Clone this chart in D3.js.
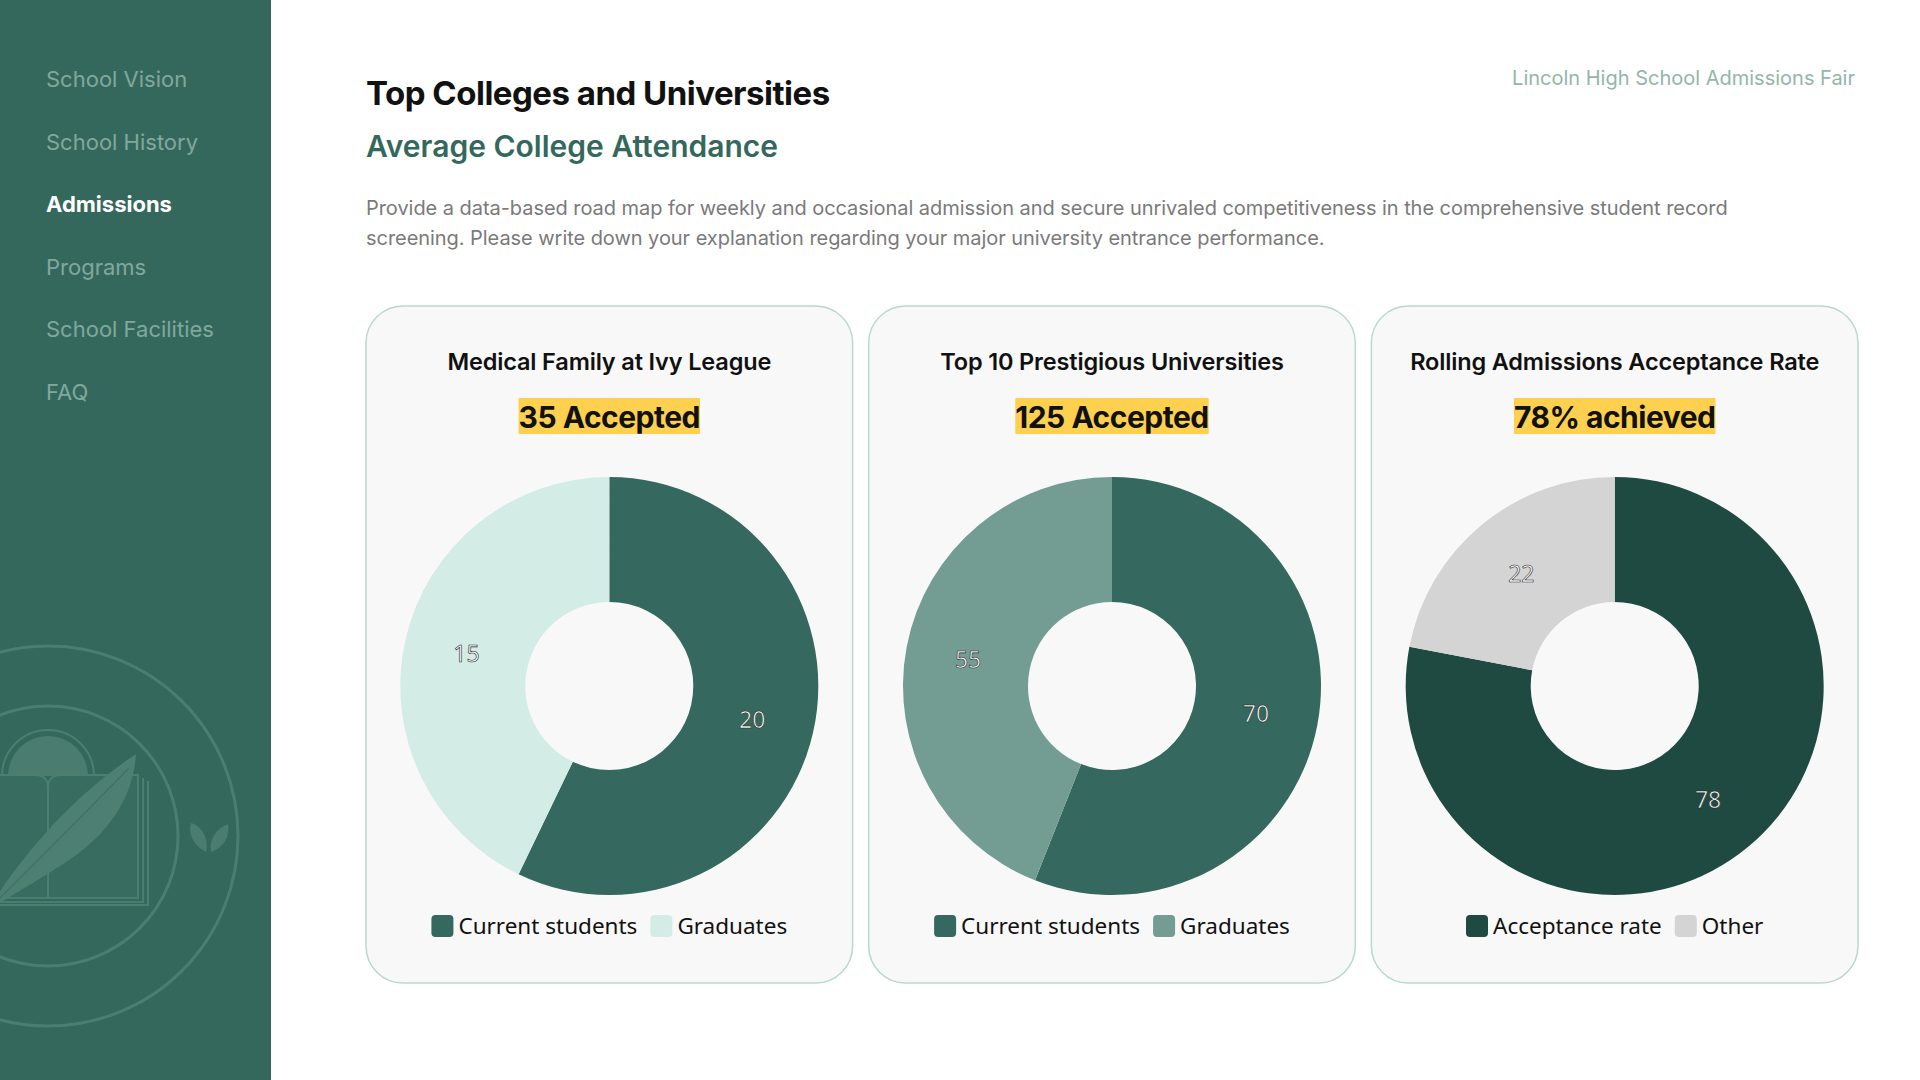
<!DOCTYPE html>
<html>
<head>
<meta charset="utf-8">
<script src="https://cdn.jsdelivr.net/npm/d3@7"></script>
<style>
  html, body { margin: 0; padding: 0; background: #fff; }
  svg { display: block; }
</style>
</head>
<body>
<script>
// ---- data ----
const navItems = ['School Vision', 'School History', 'Admissions', 'Programs', 'School Facilities', 'FAQ'];
const activeNav = 'Admissions';
const pageTitle = 'Top Colleges and Universities';
const pageSubtitle = 'Average College Attendance';
const introLines = [
  'Provide a data-based road map for weekly and occasional admission and secure unrivaled competitiveness in the comprehensive student record',
  'screening. Please write down your explanation regarding your major university entrance performance.'
];
const eventName = 'Lincoln High School Admissions Fair';

const cardTitles = ['Medical Family at Ivy League', 'Top 10 Prestigious Universities', 'Rolling Admissions Acceptance Rate'];
const cardHighlights = ['35 Accepted', '125 Accepted', '78% achieved'];
const cardCategories = [
  ['Current students', 'Graduates'],
  ['Current students', 'Graduates'],
  ['Acceptance rate', 'Other']
];
const cardValues = [
  [20, 15],
  [70, 55],
  [78, 22]
];
// styles
const cardColors = [
  ['#35685e', '#d3ece6'],
  ['#35685e', '#739d93'],
  ['#1e4a42', '#d4d4d4']
];

const W = 1920, H = 1080;
const sideW = 271;
const headFont = 'Inter, "Noto Sans", sans-serif';
const bodyFont = '"Noto Sans", "Open Sans", sans-serif';

const svg = d3.select('body').append('svg')
    .attr('width', W)
    .attr('height', H)
    .attr('viewBox', [0, 0, W, H]);

// ---- sidebar ----
svg.append('rect')
    .attr('width', sideW)
    .attr('height', H)
    .attr('fill', '#35685c');

const navY = d3.scalePoint()
    .domain(navItems)
    .range([87, 400]);

svg.append('g')
  .selectAll('text')
  .data(navItems)
  .join('text')
    .attr('x', 46)
    .attr('y', d => navY(d))
    .attr('font-family', headFont)
    .attr('font-size', 22)
    .attr('font-weight', d => d === activeNav ? 700 : 400)
    .attr('fill', d => d === activeNav ? '#ffffff' : '#80a89d')
    .text(d => d);

// emblem, clipped to the sidebar
svg.append('clipPath').attr('id', 'side-clip')
  .append('rect').attr('width', sideW).attr('height', H);

const emblem = svg.append('g')
    .attr('clip-path', 'url(#side-clip)');
const embLine = '#4b7e71', embFill = '#4a7c70';

emblem.selectAll('circle')
  .data([190, 130])
  .join('circle')
    .attr('cx', 48)
    .attr('cy', 836)
    .attr('r', d => d)
    .attr('fill', 'none')
    .attr('stroke', embLine)
    .attr('stroke-width', 3);

// sun
emblem.append('path')
    .attr('d', 'M8,776 A40,40 0 0 1 88,776 Z')
    .attr('fill', embFill);
emblem.append('path')
    .attr('d', 'M2,776 A46,46 0 0 1 94,776')
    .attr('fill', 'none')
    .attr('stroke', embLine)
    .attr('stroke-width', 2);

// book pages
emblem.append('path')
    .attr('d', 'M-30,775 L35,775 Q48,775 48,788 L48,898 L-30,898 Z')
    .attr('fill', '#396c60')
    .attr('stroke', embLine)
    .attr('stroke-width', 2);
emblem.append('path')
    .attr('d', 'M48,788 Q48,775 61,775 L138,775 L138,898 L48,898 Z')
    .attr('fill', '#396c60')
    .attr('stroke', embLine)
    .attr('stroke-width', 2);
emblem.selectAll('.pg')
  .data([143, 148])
  .join('path')
    .attr('class', 'pg')
    .attr('d', (d, i) => `M${d},${778 + i * 3} L${d},${902 + i * 3} L-30,${902 + i * 3}`)
    .attr('fill', 'none')
    .attr('stroke', embLine)
    .attr('stroke-width', 2);

// feather
emblem.append('path')
    .attr('d', 'M-12,910 C20,858 70,798 136,754 C133,798 109,833 69,860 C39,880 14,894 -12,910 Z')
    .attr('fill', '#4d8073');
emblem.append('path')
    .attr('d', 'M-5,903 C40,858 90,808 129,768')
    .attr('fill', 'none')
    .attr('stroke', '#3f7366')
    .attr('stroke-width', 1.5);

// leaves
emblem.append('path')
    .attr('d', 'M206,852 C192,845 188,832 191,823 C203,827 209,839 206,852 Z')
    .attr('fill', embFill);
emblem.append('path')
    .attr('d', 'M211,852 C225,847 230,835 228,824 C215,829 209,840 211,852 Z')
    .attr('fill', embFill);

// ---- header ----
svg.append('text')
    .attr('x', 366)
    .attr('y', 105)
    .attr('font-family', headFont)
    .attr('font-size', 33)
    .attr('font-weight', 700)
    .attr('letter-spacing', -0.5)
    .attr('fill', '#111')
    .text(pageTitle);

svg.append('text')
    .attr('x', 366)
    .attr('y', 157)
    .attr('font-family', headFont)
    .attr('font-size', 30)
    .attr('font-weight', 600)
    .attr('letter-spacing', 0)
    .attr('fill', '#35685c')
    .text(pageSubtitle);

svg.append('g')
  .selectAll('text')
  .data(introLines)
  .join('text')
    .attr('x', 366)
    .attr('y', (d, i) => 215 + i * 29.5)
    .attr('font-family', headFont)
    .attr('font-size', 20)
    .attr('letter-spacing', -0.05)
    .attr('fill', '#7a7a7a')
    .text(d => d);

svg.append('text')
    .attr('x', 1855)
    .attr('y', 85)
    .attr('text-anchor', 'end')
    .attr('font-family', headFont)
    .attr('font-size', 20)
    .attr('fill', '#94b5ab')
    .text(eventName);

// ---- cards ----
const cardH = 677, cardTop = 306;
const cardX = d3.scaleBand()
    .domain(d3.range(cardTitles.length))
    .range([366, 1858])
    .paddingInner(0.032);

const pie = d3.pie().sort(null).value(d => d);
const arc = d3.arc().innerRadius(84).outerRadius(209);

cardTitles.forEach((title, ci) => {
  const g = svg.append('g')
      .attr('transform', `translate(${cardX(ci)},${cardTop})`);
  const cx = cardX.bandwidth() / 2;

  g.append('rect')
      .attr('width', cardX.bandwidth())
      .attr('height', cardH)
      .attr('rx', 37)
      .attr('fill', '#f8f8f8')
      .attr('stroke', '#bcd7cf')
      .attr('stroke-width', 1.5);

  g.append('text')
      .attr('x', cx)
      .attr('y', 64)
      .attr('text-anchor', 'middle')
      .attr('font-family', headFont)
      .attr('font-size', 23.5)
      .attr('font-weight', 600)
      .attr('letter-spacing', -0.15)
      .attr('fill', '#111')
      .text(title);

  const hl = g.append('g');
  const hlText = hl.append('text')
      .attr('x', cx)
      .attr('y', 122)
      .attr('text-anchor', 'middle')
      .attr('font-family', headFont)
      .attr('font-size', 30)
      .attr('font-weight', 700)
      .attr('letter-spacing', -0.5)
      .attr('fill', '#111')
      .text(cardHighlights[ci]);
  const bb = hlText.node().getBBox();
  hl.insert('rect', 'text')
      .attr('x', bb.x)
      .attr('y', 92)
      .attr('width', bb.width)
      .attr('height', 36)
      .attr('fill', '#fdd04f');

  // donut
  const color = d3.scaleOrdinal(cardCategories[ci], cardColors[ci]);
  const arcs = pie(cardValues[ci]);
  const donut = g.append('g')
      .attr('transform', `translate(${cx},${380})`);
  donut.selectAll('path')
    .data(arcs)
    .join('path')
      .attr('d', arc)
      .attr('fill', (d, i) => color(cardCategories[ci][i]));
  donut.selectAll('text')
    .data(arcs)
    .join('text')
      .attr('transform', d => `translate(${arc.centroid(d)})`)
      .attr('text-anchor', 'middle')
      .attr('dominant-baseline', 'central')
      .attr('font-family', bodyFont)
      .attr('font-size', 23)
      .attr('fill', '#fff')
      .attr('stroke', '#222')
      .attr('stroke-width', 0.6)
      .text(d => d.data);

  // legend
  const leg = g.append('g');
  let lx = 0;
  cardCategories[ci].forEach((cat, i) => {
    const item = leg.append('g').attr('transform', `translate(${lx},0)`);
    item.append('rect')
        .attr('x', 0)
        .attr('y', -11)
        .attr('width', 22)
        .attr('height', 22)
        .attr('rx', 4)
        .attr('fill', color(cat));
    const t = item.append('text')
        .attr('x', 27)
        .attr('y', 8)
        .attr('font-family', bodyFont)
        .attr('font-size', 22.5)
        .attr('fill', '#111')
        .text(cat);
    lx += 27 + t.node().getComputedTextLength() + 13;
  });
  const legW = lx - 13;
  leg.attr('transform', `translate(${cx - legW / 2},${620})`);
});
</script>
</body>
</html>
